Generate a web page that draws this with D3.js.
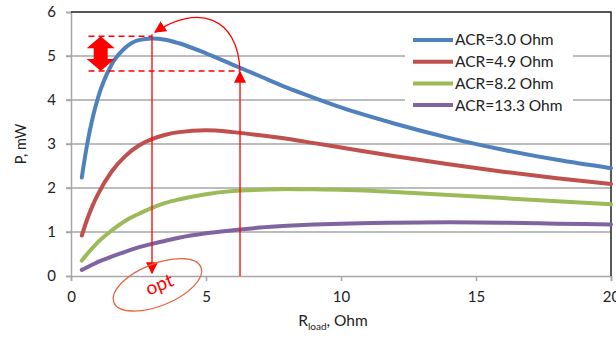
<!DOCTYPE html>
<html>
<head>
<meta charset="utf-8">
<script src="https://cdn.jsdelivr.net/npm/d3@7/dist/d3.min.js"></script>
<style>
  body { margin: 0; background: #fff; }
  svg text { font-family: Lato, "Open Sans", sans-serif; fill: #222; }
</style>
</head>
<body>
<div id="chart"></div>
<script>
// Load resistance (Ohm) sample points
const rLoad = [0.4, 0.6, 0.8, 1, 1.5, 2, 2.5, 3, 3.5, 4, 5, 6, 7, 8, 9, 10, 12, 14, 16, 18, 20];

// Power (mW)
const p30 = [2.24, 3.00, 3.59, 4.05, 4.80, 5.18, 5.36, 5.40, 5.37, 5.29, 5.06, 4.80, 4.54, 4.28, 4.05, 3.83, 3.46, 3.14, 2.87, 2.64, 2.45];
const p49 = [0.92, 1.29, 1.60, 1.86, 2.37, 2.72, 2.96, 3.11, 3.21, 3.27, 3.31, 3.27, 3.20, 3.12, 3.02, 2.92, 2.72, 2.54, 2.37, 2.22, 2.09];
const p82 = [0.35, 0.50, 0.64, 0.77, 1.03, 1.25, 1.41, 1.55, 1.66, 1.74, 1.86, 1.93, 1.96, 1.98, 1.97, 1.96, 1.91, 1.84, 1.77, 1.70, 1.63];
const p133 = [0.14, 0.20, 0.26, 0.32, 0.44, 0.55, 0.65, 0.73, 0.80, 0.87, 0.97, 1.04, 1.10, 1.14, 1.17, 1.19, 1.21, 1.22, 1.21, 1.19, 1.17];

const seriesNames = ["ACR=3.0 Ohm", "ACR=4.9 Ohm", "ACR=8.2 Ohm", "ACR=13.3 Ohm"];
const seriesValues = [p30, p49, p82, p133];
const colors = ["#4f81bd", "#c0504d", "#9bbb59", "#8064a2"];

const xTicks = [0, 5, 10, 15, 20];
const yTicks = [0, 1, 2, 3, 4, 5, 6];

// Annotation values (data units)
const rOpt = 3.0, pMax = 5.45, rAlt = 6.26, pAlt = 4.66;

const w = 616, h = 338;
const margin = { top: 12, right: 5, bottom: 62, left: 71 };

const svg = d3.select("#chart").append("svg")
  .attr("width", w).attr("height", h);

const x = d3.scaleLinear().domain([0, 20]).range([margin.left, w - margin.right]);
const y = d3.scaleLinear().domain([0, 6]).range([h - margin.bottom, margin.top]);

const defs = svg.append("defs");
defs.append("marker")
  .attr("id", "head")
  .attr("viewBox", "0 0 10 10")
  .attr("refX", 9).attr("refY", 5)
  .attr("markerWidth", 12).attr("markerHeight", 12)
  .attr("markerUnits", "userSpaceOnUse")
  .attr("orient", "auto")
  .append("path").attr("d", "M0,0 L10,5 L0,10 Z").attr("fill", "#ff0000");

// gridlines
svg.append("g")
  .selectAll("line")
  .data(yTicks.slice(1, -1))
  .join("line")
  .attr("x1", x(0) - 5).attr("x2", x(20))
  .attr("y1", d => y(d)).attr("y2", d => y(d))
  .attr("stroke", "#a6a6a6").attr("stroke-width", 1.5);

// axes
const xAxis = svg.append("g")
  .attr("transform", `translate(0,${y(0)})`)
  .call(d3.axisBottom(x).tickValues(xTicks).tickSize(5).tickPadding(10));
const yAxis = svg.append("g")
  .attr("transform", `translate(${x(0)},0)`)
  .call(d3.axisLeft(y).tickValues(yTicks).tickFormat(d3.format("d")).tickSize(5).tickPadding(10));
[xAxis, yAxis].forEach(a => {
  a.select(".domain").attr("stroke", "#a6a6a6").attr("stroke-width", 1.5);
  a.selectAll(".tick line").attr("stroke", "#a6a6a6").attr("stroke-width", 1.5);
  a.selectAll("text").style("font-size", "15px").attr("fill", "#222");
});

// top and right border
svg.append("path")
  .attr("d", `M${x(0)},${y(6)} H${x(20)} V${y(0)}`)
  .attr("fill", "none").attr("stroke", "#222").attr("stroke-width", 1.5);

// legend background
const lg = svg.append("g").attr("transform", "translate(405,22)");
lg.append("rect").attr("width", 168).attr("height", 98).attr("fill", "#fff");

// curves
const line = d3.line()
  .x((d, i) => x(rLoad[i]))
  .y(d => y(d))
  .curve(d3.curveMonotoneX);

svg.append("g")
  .selectAll("path")
  .data(seriesValues)
  .join("path")
  .attr("d", line)
  .attr("fill", "none")
  .attr("stroke", (d, i) => colors[i])
  .attr("stroke-width", 4)
  .attr("stroke-linecap", "round");

// legend entries
const items = lg.selectAll("g.item")
  .data(seriesNames)
  .join("g")
  .attr("class", "item")
  .attr("transform", (d, i) => `translate(0,${18 + i * 21.7})`);
items.append("line")
  .attr("x1", 8).attr("x2", 48)
  .attr("stroke", (d, i) => colors[i]).attr("stroke-width", 4);
items.append("text")
  .attr("x", 50).attr("dy", "0.35em")
  .style("font-size", "15.5px")
  .text(d => d);

// axis titles
svg.append("text")
  .attr("transform", `translate(26,${(y(0) + y(6)) / 2}) rotate(-90)`)
  .attr("text-anchor", "middle")
  .style("font-size", "14.5px")
  .text("P, mW");

const xt = svg.append("text")
  .attr("x", (x(0) + x(20)) / 2 - 8).attr("y", 326)
  .attr("text-anchor", "middle")
  .style("font-size", "15.5px");
xt.append("tspan").text("R");
xt.append("tspan").attr("dy", 4).style("font-size", "10px").text("load");
xt.append("tspan").attr("dy", -4).text(", Ohm");

// annotations
const red = "#ff0000";
const ann = svg.append("g");

// dashed levels
ann.append("line")
  .attr("x1", x(0.65)).attr("x2", x(rOpt))
  .attr("y1", y(pMax)).attr("y2", y(pMax))
  .attr("stroke", red).attr("stroke-width", 1.5).attr("stroke-dasharray", "6,4");
ann.append("line")
  .attr("x1", x(0.65)).attr("x2", x(rAlt))
  .attr("y1", y(pAlt)).attr("y2", y(pAlt))
  .attr("stroke", red).attr("stroke-width", 1.5).attr("stroke-dasharray", "6,4");

// thick double arrow
const ax = x(1.1), at = y(pMax), ab = y(pAlt);
ann.append("path")
  .attr("d", `M${ax},${at} L${ax + 14},${at + 12} L${ax + 7},${at + 12} L${ax + 7},${ab - 12}
     L${ax + 14},${ab - 12} L${ax},${ab} L${ax - 14},${ab - 12} L${ax - 7},${ab - 12}
     L${ax - 7},${at + 12} L${ax - 14},${at + 12} Z`)
  .attr("fill", red);

// vertical line down to optimum
ann.append("line")
  .attr("x1", x(rOpt)).attr("x2", x(rOpt))
  .attr("y1", y(pMax) - 2).attr("y2", y(0) - 3)
  .attr("stroke", red).attr("stroke-width", 1.3)
  .attr("marker-end", "url(#head)");

// vertical line up from alternative load
ann.append("line")
  .attr("x1", x(rAlt)).attr("x2", x(rAlt))
  .attr("y1", y(0)).attr("y2", y(pAlt) + 1)
  .attr("stroke", red).attr("stroke-width", 1.3)
  .attr("marker-end", "url(#head)");

// curved arrow back to the peak
ann.append("path")
  .attr("d", `M${x(rAlt)},${y(pAlt)} C${x(rAlt) - 2},${y(pAlt) - 55} ${x(rOpt) + 45},${y(6) - 8} ${x(rOpt) + 3},${y(pMax) - 4}`)
  .attr("fill", "none").attr("stroke", red).attr("stroke-width", 1.3)
  .attr("marker-end", "url(#head)");

// "opt" ellipse
const ex = x(3.2), ey = y(-0.2);
ann.append("ellipse")
  .attr("cx", ex).attr("cy", ey).attr("rx", 47).attr("ry", 21)
  .attr("transform", `rotate(-22,${ex},${ey})`)
  .attr("fill", "none").attr("stroke", "#e8643c").attr("stroke-width", 1.3);
ann.append("text")
  .attr("x", ex + 2).attr("y", ey + 7)
  .attr("text-anchor", "middle")
  .attr("transform", `rotate(-22,${ex},${ey})`)
  .style("font-size", "19px").style("fill", red)
  .text("opt");
</script>
</body>
</html>
